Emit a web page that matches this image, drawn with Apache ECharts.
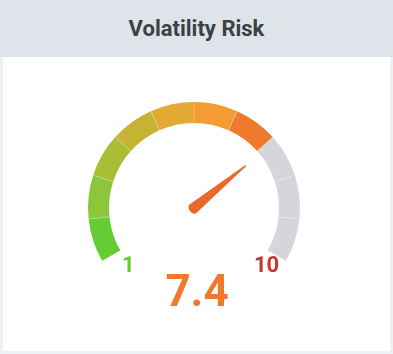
<!DOCTYPE html>
<html>
<head>
<meta charset="utf-8">
<script src="https://cdn.jsdelivr.net/npm/echarts@6/dist/echarts.min.js"></script>
<style>
  html, body { margin: 0; padding: 0; background: #fff; }
  .card {
    position: absolute; left: 0; top: 0; width: 393px; height: 354px;
    box-sizing: border-box; border: 3px solid #eef1f3; border-top: 0;
    background: #fff;
  }
  .head {
    position: absolute; left: -3px; top: 0; width: 393px; height: 57px;
    background: #dfe3ea;
    font: bold 22px Roboto, sans-serif; color: #3a4245;
    text-align: center; line-height: 58px;
  }
  #chart { position: absolute; left: 0; top: 0; width: 393px; height: 354px; }
</style>
</head>
<body>
<div class="card"><div class="head">Volatility Risk</div></div>
<div id="chart"></div>
<script>
const minValue = 1
const maxValue = 10
const riskValue = 7.4
const minLabel = '1'
const maxLabel = '10'
const segmentColors = ['#66cc33', '#8cc63a', '#a9bd35', '#c6b233', '#e4a934', '#f29c33', '#ef7a2e', '#d5d6db', '#d5d6db', '#d5d6db']
const emptyColor = '#d5d6db'

const myChart = echarts.init(document.getElementById('chart'))

// 分段颜色：当前值之后的段显示为灰色
const filled = Math.floor((riskValue - minValue) / (maxValue - minValue) * segmentColors.length)
const stops = segmentColors.map((c, i) => [(i + 1) / segmentColors.length, i < filled ? c : emptyColor])

const option = {
  graphic: [
    {
      type: 'text', left: 122, top: 255,
      style: { text: minLabel, fill: '#66cc33', font: 'bold 22px Roboto, sans-serif' }
    },
    {
      type: 'text', left: 254, top: 255,
      style: { text: maxLabel, fill: '#cc3333', font: 'bold 22px Roboto, sans-serif' }
    }
  ],
  series: [
    {
      type: 'gauge',
      center: [194, 208],
      radius: 106,
      min: minValue,
      max: maxValue,
      startAngle: 210,
      endAngle: -30,
      splitNumber: segmentColors.length,
      axisLine: {
        lineStyle: { width: 21, color: stops }
      },
      splitLine: {
        distance: -21,
        length: 21,
        lineStyle: { color: 'rgba(255,255,255,0.25)', width: 1 }
      },
      axisTick: { show: false },
      axisLabel: { show: false },
      pointer: {
        // 细长锥形指针，圆形底座
        icon: 'path://M4.4,0 L5.6,0 L10,94 A5,5 0 0 1 0,94 Z',
        length: '68%',
        width: 11,
        offsetCenter: [0, 5],
        itemStyle: { color: '#e8692e' }
      },
      anchor: { show: false },
      title: { show: false },
      detail: {
        offsetCenter: [3, 87],
        fontSize: 44,
        fontWeight: 'bold',
        fontFamily: 'Roboto',
        color: '#ef7a2e',
        formatter: v => v.toFixed(1)
      },
      data: [{ value: riskValue }]
    }
  ]
}

option && myChart.setOption(option)
</script>
</body>
</html>
